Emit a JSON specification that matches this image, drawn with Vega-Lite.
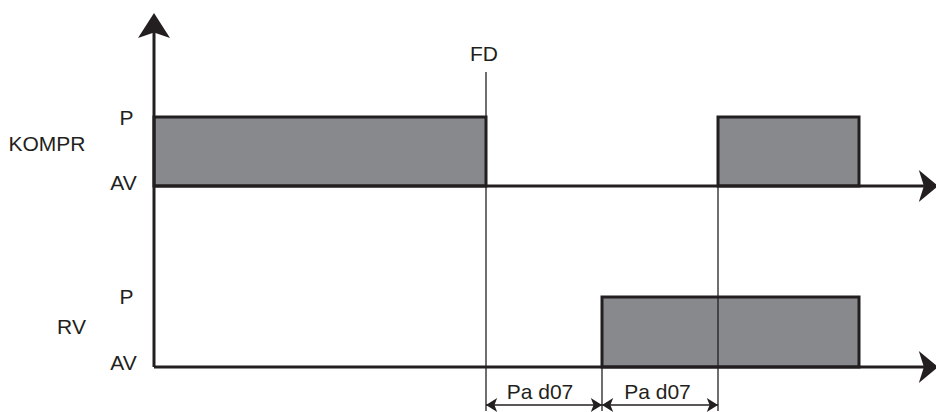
{
  "$schema": "https://vega.github.io/schema/vega-lite/v6.json",
  "width": 936,
  "height": 412,
  "autosize": "none",
  "padding": 0,
  "background": "white",
  "config": {"view": {"stroke": null}},
  "datasets": {
    "boxes": [
      {"signal": "KOMPR", "start": 0, "end": 332, "low": 181, "high": 250},
      {"signal": "KOMPR", "start": 564, "end": 705, "low": 181, "high": 250},
      {"signal": "RV", "start": 448, "end": 705, "low": 0, "high": 70}
    ],
    "baselines": [
      {"signal": "KOMPR", "start": 0, "end": 772, "level": 181},
      {"signal": "RV", "start": 0, "end": 772, "level": 0}
    ],
    "timeaxis": [
      {"t": 0, "from": 0, "to": 345}
    ],
    "markers": [
      {"name": "FD", "t": 332, "from": -44, "to": 295},
      {"name": "RV on", "t": 448, "from": -44, "to": 70},
      {"name": "KOMPR on", "t": 564, "from": -44, "to": 250}
    ],
    "delays": [
      {"label": "Pa d07", "start": 332, "end": 448, "level": -38},
      {"label": "Pa d07", "start": 448, "end": 564, "level": -38}
    ],
    "delayheads": [
      {"t": 332, "level": -38, "dir": 180},
      {"t": 448, "level": -38, "dir": 0},
      {"t": 448, "level": -38, "dir": 180},
      {"t": 564, "level": -38, "dir": 0}
    ],
    "uparrow": [{"t": 0, "level": 354}],
    "rightarrows": [
      {"t": 784, "level": 181},
      {"t": 784, "level": 0}
    ],
    "labels": [
      {"text": "P", "t": -27.5, "level": 248.5},
      {"text": "AV", "t": -30.5, "level": 183.5},
      {"text": "KOMPR", "t": -107, "level": 222.5},
      {"text": "P", "t": -27.5, "level": 69.5},
      {"text": "RV", "t": -82.5, "level": 39.5},
      {"text": "AV", "t": -30.5, "level": 3.5},
      {"text": "FD", "t": 330, "level": 312},
      {"text": "Pa d07", "t": 386, "level": -25.5},
      {"text": "Pa d07", "t": 503.5, "level": -25.5}
    ]
  },
  "resolve": {"scale": {"x": "shared", "y": "shared"}},
  "layer": [
    {
      "data": {"name": "boxes"},
      "mark": {"type": "rect", "fill": "#88898d", "stroke": "#231f20", "strokeWidth": 3},
      "encoding": {
        "x": {"field": "start", "type": "quantitative", "scale": {"domain": [-154, 782], "nice": false, "zero": false}, "axis": null},
        "x2": {"field": "end"},
        "y": {"field": "low", "type": "quantitative", "scale": {"domain": [-45, 367], "nice": false, "zero": false}, "axis": null},
        "y2": {"field": "high"}
      }
    },
    {
      "data": {"name": "baselines"},
      "mark": {"type": "rule", "stroke": "#231f20", "strokeWidth": 3},
      "encoding": {
        "x": {"field": "start", "type": "quantitative"},
        "x2": {"field": "end"},
        "y": {"field": "level", "type": "quantitative"}
      }
    },
    {
      "data": {"name": "timeaxis"},
      "mark": {"type": "rule", "stroke": "#231f20", "strokeWidth": 3},
      "encoding": {
        "x": {"field": "t", "type": "quantitative"},
        "y": {"field": "from", "type": "quantitative"},
        "y2": {"field": "to"}
      }
    },
    {
      "data": {"name": "markers"},
      "mark": {"type": "rule", "stroke": "#231f20", "strokeWidth": 1.3},
      "encoding": {
        "x": {"field": "t", "type": "quantitative"},
        "y": {"field": "from", "type": "quantitative"},
        "y2": {"field": "to"}
      }
    },
    {
      "data": {"name": "delays"},
      "mark": {"type": "rule", "stroke": "#231f20", "strokeWidth": 1.5},
      "encoding": {
        "x": {"field": "start", "type": "quantitative"},
        "x2": {"field": "end"},
        "y": {"field": "level", "type": "quantitative"}
      }
    },
    {
      "data": {"name": "delayheads"},
      "mark": {"type": "point", "filled": true, "fill": "#231f20", "opacity": 1, "strokeWidth": 0, "size": 196, "shape": "M0,0 L-1.6,-1 L-1.2,0 L-1.6,1 Z"},
      "encoding": {
        "x": {"field": "t", "type": "quantitative"},
        "y": {"field": "level", "type": "quantitative"},
        "angle": {"field": "dir", "type": "quantitative", "scale": null}
      }
    },
    {
      "data": {"name": "uparrow"},
      "mark": {"type": "point", "filled": true, "fill": "#231f20", "opacity": 1, "strokeWidth": 0, "size": 1024, "shape": "M0,0 L1,1.56 L0,1.22 L-1,1.56 Z"},
      "encoding": {
        "x": {"field": "t", "type": "quantitative"},
        "y": {"field": "level", "type": "quantitative"}
      }
    },
    {
      "data": {"name": "rightarrows"},
      "mark": {"type": "point", "filled": true, "fill": "#231f20", "opacity": 1, "strokeWidth": 0, "size": 1024, "shape": "M0,0 L-1.2,-1 L-0.88,0 L-1.2,1 Z"},
      "encoding": {
        "x": {"field": "t", "type": "quantitative"},
        "y": {"field": "level", "type": "quantitative"}
      }
    },
    {
      "data": {"name": "labels"},
      "mark": {"type": "text", "font": "Liberation Sans", "fontSize": 21, "fill": "#231f20", "align": "center", "baseline": "middle"},
      "encoding": {
        "x": {"field": "t", "type": "quantitative"},
        "y": {"field": "level", "type": "quantitative"},
        "text": {"field": "text", "type": "nominal"}
      }
    }
  ]
}
